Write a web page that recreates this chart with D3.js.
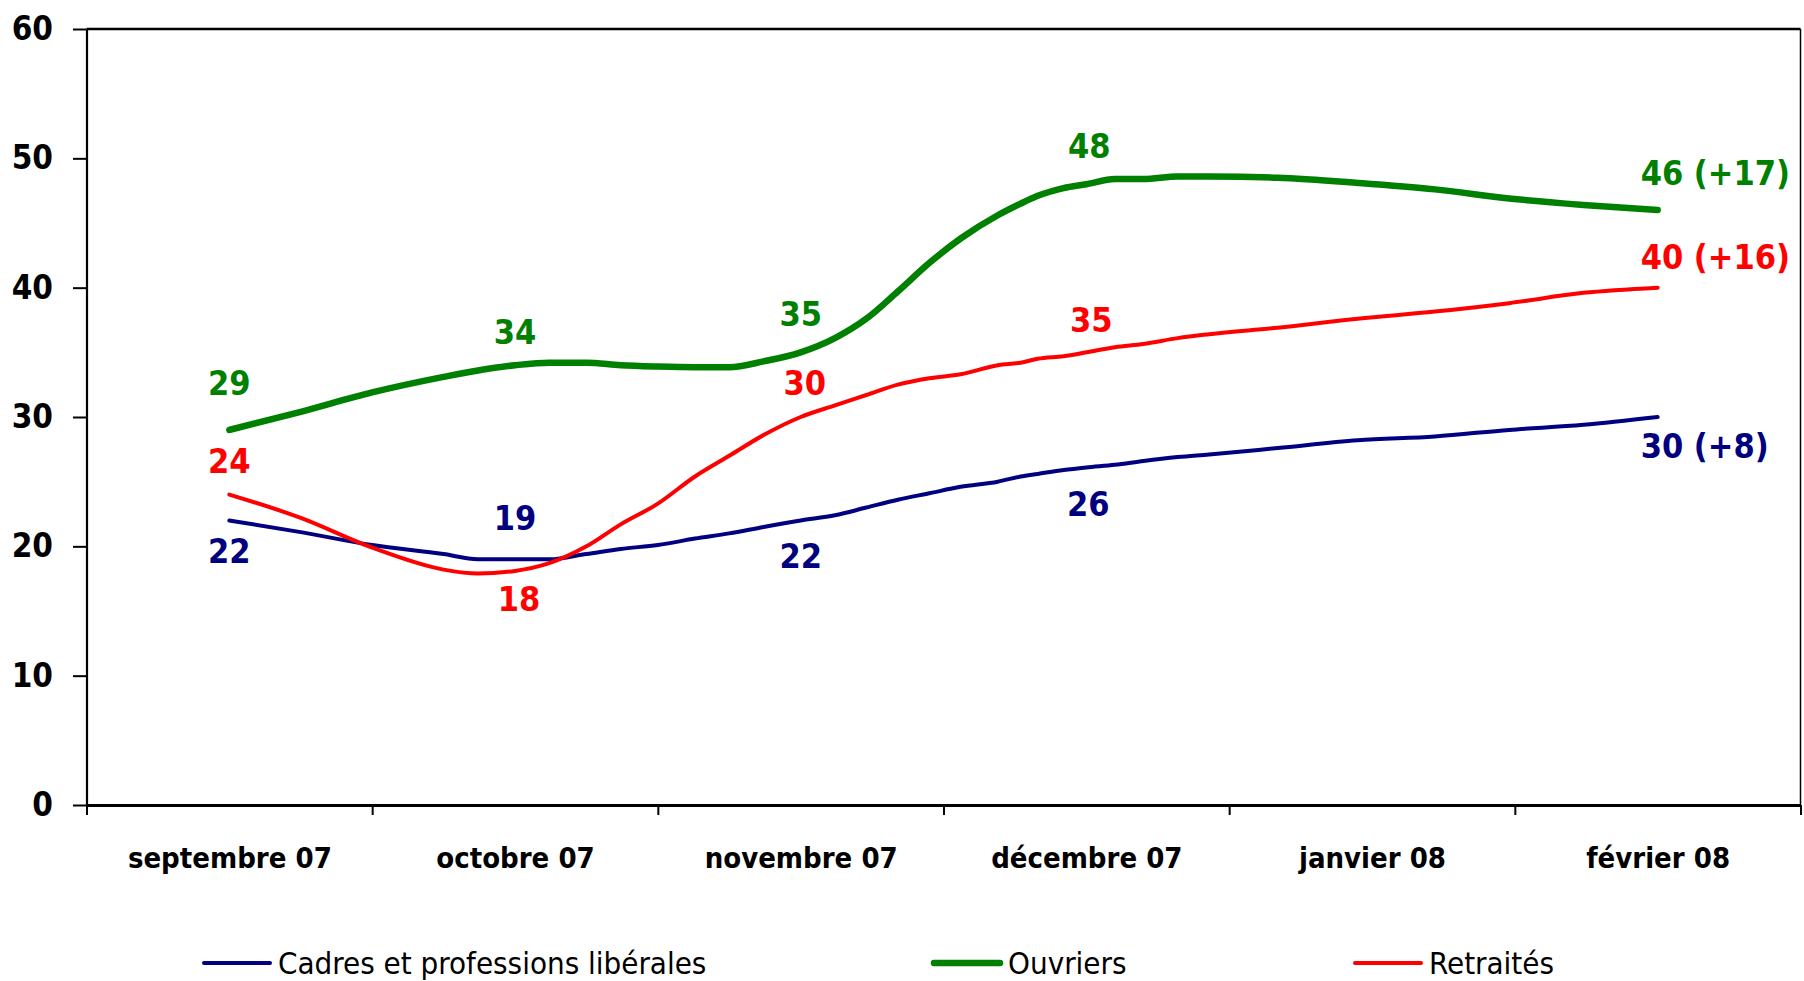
<!DOCTYPE html>
<html>
<head>
<meta charset="utf-8">
<script src="https://cdn.jsdelivr.net/npm/d3@7/dist/d3.min.js"></script>
<style>
  body { margin: 0; background: #fff; }
  svg text { font-family: 'DejaVu Sans Condensed', 'DejaVu Sans', sans-serif; font-stretch: condensed; }
</style>
</head>
<body>
<div id="App"></div>
<script>
// categories on the x axis
const months = ['septembre 07', 'octobre 07', 'novembre 07', 'décembre 07', 'janvier 08', 'février 08'];
const yTicks = [0, 10, 20, 30, 40, 50, 60];

// sample positions along the month axis (0 = septembre 07 ... 5 = février 08)
const samplePos = [0, 0.25, 0.5, 0.75, 0.87, 1, 1.12, 1.25, 1.37, 1.5, 1.63, 1.75, 1.87, 2, 2.12, 2.23, 2.34,
  2.45, 2.56, 2.69, 2.77, 2.83, 2.92, 3, 3.1, 3.2, 3.32, 3.43, 3.67, 3.95, 4.22, 4.48, 4.74, 5];

const cadres = [22, 21.1, 20.1, 19.4, 19, 19, 19, 19.4, 19.8, 20.1, 20.6, 21, 21.5, 22, 22.4, 23, 23.6,
  24.1, 24.6, 25, 25.4, 25.6, 25.9, 26.1, 26.3, 26.6, 26.9, 27.1, 27.6, 28.2, 28.5, 29, 29.4, 30];
const ouvriers = [29, 30.4, 31.9, 33.1, 33.6, 34, 34.2, 34.2, 34, 33.9, 33.85, 33.85, 34.3, 35, 36.1, 37.6, 39.7,
  41.9, 43.8, 45.6, 46.5, 47.1, 47.7, 48, 48.4, 48.4, 48.6, 48.6, 48.5, 48.1, 47.6, 46.9, 46.4, 46];
const retraites = [24, 22.2, 19.9, 18.2, 17.9, 18.1, 18.7, 20, 21.7, 23.3, 25.4, 27, 28.6, 30, 30.9, 31.7, 32.5,
  33, 33.3, 34, 34.2, 34.5, 34.7, 35, 35.4, 35.65, 36.1, 36.4, 36.9, 37.6, 38.15, 38.8, 39.6, 40];

// value labels shown at each month (null = no label)
const cadresLabels = ['22', '19', '22', '26', null, '30 (+8)'];
const ouvriersLabels = ['29', '34', '35', '48', null, '46 (+17)'];
const retraitesLabels = ['24', '18', '30', '35', null, '40 (+16)'];

const width = 1804;
const height = 981;
const plotLeft = 86.5;
const plotRight = 1800.5;
const plotTop = 29;
const plotBottom = 805;

const series = [
  { name: 'Cadres et professions libérales', values: cadres, labels: cadresLabels, color: '#000080', lw: 4,
    dy: [30, -42, 35, 36, null, 29], dx: [0, 0, 0, 2, 0, 0], legendX: 204 },
  { name: 'Ouvriers', values: ouvriers, labels: ouvriersLabels, color: '#008000', lw: 6.5,
    dy: [-47, -34, -39, -38, null, -37], dx: [0, 0, 0, 3, 0, 0], legendX: 934 },
  { name: 'Retraités', values: retraites, labels: retraitesLabels, color: '#FF0000', lw: 4,
    dy: [-34, 28, -34, -33, null, -31], dx: [0, 4, 4, 5, 0, 0], legendX: 1355 }
];

const svg = d3.select('#App')
  .append('svg')
  .attr('width', width)
  .attr('height', height);

const x = d3.scaleLinear().domain([-0.5, months.length - 0.5]).range([plotLeft, plotRight]);
const y = d3.scaleLinear().domain([0, 60]).range([plotBottom, plotTop]);

// y axis
const yAxis = svg.append('g')
  .attr('transform', `translate(${plotLeft},0)`)
  .call(d3.axisLeft(y).tickValues(yTicks).tickSize(13.5).tickSizeOuter(0).tickPadding(20));
yAxis.select('.domain').attr('stroke-width', 2.2);
yAxis.selectAll('.tick line').attr('stroke-width', 2);
yAxis.selectAll('text')
  .attr('font-size', 33)
  .attr('font-weight', 'bold')
  .attr('fill', '#000');

// frame: top and right border of the plot area
svg.append('line')
  .attr('x1', plotLeft).attr('x2', plotRight)
  .attr('y1', plotTop).attr('y2', plotTop)
  .attr('stroke', '#000').attr('stroke-width', 2.5);
svg.append('line')
  .attr('x1', plotRight).attr('x2', plotRight)
  .attr('y1', plotTop).attr('y2', plotBottom)
  .attr('stroke', '#000').attr('stroke-width', 1.5);

// x axis: boundary ticks
const xAxis = svg.append('g')
  .attr('transform', `translate(0,${plotBottom})`)
  .call(d3.axisBottom(x).tickValues(d3.range(-0.5, months.length, 1)).tickFormat('').tickSize(10).tickSizeOuter(0));
xAxis.select('.domain').attr('stroke-width', 3);
xAxis.selectAll('.tick line').attr('stroke-width', 2);

// x axis: month labels centred between ticks
const xLabels = svg.append('g')
  .attr('transform', `translate(0,${plotBottom})`)
  .call(d3.axisBottom(x).tickValues(d3.range(months.length)).tickFormat(i => months[i]).tickSize(0).tickPadding(42));
xLabels.select('.domain').remove();
xLabels.selectAll('text')
  .attr('font-size', 29)
  .attr('font-weight', 'bold')
  .attr('fill', '#000');

const line = d3.line()
  .x(d => x(d[0]))
  .y(d => y(d[1]))
  .curve(d3.curveMonotoneX);

// draw lines, green on top like the original
const order = [0, 2, 1];
order.forEach(k => {
  const s = series[k];
  svg.append('path')
    .datum(samplePos.map((p, i) => [p, s.values[i]]))
    .attr('fill', 'none')
    .attr('stroke', s.color)
    .attr('stroke-width', s.lw)
    .attr('stroke-linecap', 'round')
    .attr('stroke-linejoin', 'round')
    .attr('d', line);
});

// value labels
series.forEach(s => {
  s.labels.forEach((lab, i) => {
    if (!lab) return;
    const v = s.values[samplePos.indexOf(i)];
    const last = i === months.length - 1;
    svg.append('text')
      .attr('x', (last ? x(i) - 17 : x(i)) + s.dx[i])
      .attr('y', y(v) + s.dy[i])
      .attr('dy', '0.36em')
      .attr('text-anchor', last ? 'start' : 'middle')
      .attr('font-size', 34)
      .attr('font-weight', 'bold')
      .attr('fill', s.color)
      .text(lab);
  });
});

// legend
const legendY = 963;
series.forEach(s => {
  svg.append('line')
    .attr('x1', s.legendX).attr('x2', s.legendX + 66)
    .attr('y1', legendY).attr('y2', legendY)
    .attr('stroke', s.color)
    .attr('stroke-width', s.lw)
    .attr('stroke-linecap', 'round');
  svg.append('text')
    .attr('x', s.legendX + 74)
    .attr('y', legendY)
    .attr('dy', '0.36em')
    .attr('font-size', 31)
    .attr('fill', '#000')
    .text(s.name);
});
</script>
</body>
</html>
